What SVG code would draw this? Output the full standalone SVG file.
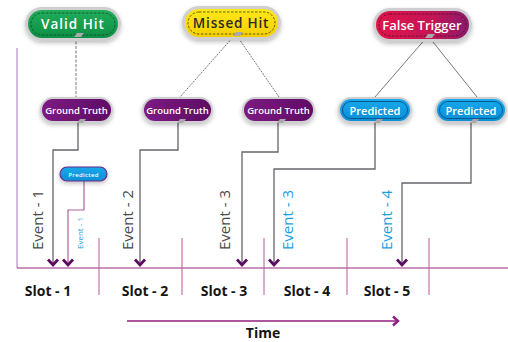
<svg xmlns="http://www.w3.org/2000/svg" width="508" height="342" viewBox="0 0 508 342">
<defs>
  <filter id="sh" x="-20%" y="-30%" width="140%" height="170%">
    <feDropShadow dx="0" dy="2" stdDeviation="2" flood-color="#000" flood-opacity="0.25"/>
  </filter>
  <linearGradient id="gGreen" x1="0" y1="0" x2="0" y2="1"><stop offset="0" stop-color="#22ad5c"/><stop offset="1" stop-color="#0e8f45"/></linearGradient>
  <linearGradient id="gYellow" x1="0" y1="0" x2="0" y2="1"><stop offset="0" stop-color="#ffe81a"/><stop offset="1" stop-color="#f5cf00"/></linearGradient>
  <linearGradient id="gRed" x1="0" y1="0" x2="1" y2="0"><stop offset="0" stop-color="#e0154a"/><stop offset="0.6" stop-color="#c41555"/><stop offset="1" stop-color="#8a1a6c"/></linearGradient>
  <linearGradient id="gPurple" x1="0" y1="0" x2="1" y2="0"><stop offset="0" stop-color="#7d1a82"/><stop offset="1" stop-color="#5e0c66"/></linearGradient>
  <linearGradient id="gBlue" x1="0" y1="0" x2="0" y2="1"><stop offset="0" stop-color="#18a8ec"/><stop offset="1" stop-color="#0a8fd6"/></linearGradient>
  <marker id="chev" markerUnits="userSpaceOnUse" markerWidth="14" markerHeight="14" viewBox="-8 -7 10 14" refX="0" refY="0" orient="auto">
    <path d="M-5.5,-5 L0,0 L-5.5,5" fill="none" stroke="#5c0b5e" stroke-width="2.8" stroke-linejoin="miter"/>
  </marker>
  <marker id="chevT" markerUnits="userSpaceOnUse" markerWidth="14" markerHeight="14" viewBox="-8 -7 10 14" refX="0" refY="0" orient="auto">
    <path d="M-5,-4.5 L0,0 L-5,4.5" fill="none" stroke="#8e1f80" stroke-width="2.4"/>
  </marker>
  <style>
    .outer{fill:#cfcfd2;filter:url(#sh)}
    .dash{fill:none;stroke-width:0.8;stroke-dasharray:2.5 1.5}
    .notch{fill:#a9a9ad}
    .lbl{font-family:"Open Sans","Liberation Sans",sans-serif;font-weight:600;text-anchor:middle}
    .elbow{fill:none;stroke:#66666c;stroke-width:1.3;marker-end:url(#chev)}
    .thin{fill:none;stroke:#55555a;stroke-width:0.8}
    .ev{font-family:"Open Sans","Liberation Sans",sans-serif;text-anchor:middle}
    .slot{font-family:"Open Sans","Liberation Sans",sans-serif;font-size:14px;font-weight:bold;fill:#151515;text-anchor:middle}
    .div{stroke:#b45a95;stroke-width:1}
  </style>
</defs>
<rect width="508" height="342" fill="#ffffff"/>

<g id="axes">
  <line x1="17" y1="48" x2="17" y2="268" stroke="#b88cc6" stroke-width="1.2"/>
  <line x1="17" y1="268" x2="508" y2="268" stroke="#93297f" stroke-width="1.2"/>
  <line class="div" x1="99" y1="238" x2="99" y2="295"/>
  <line class="div" x1="182" y1="238" x2="182" y2="295"/>
  <line class="div" x1="264" y1="238" x2="264" y2="295"/>
  <line class="div" x1="347" y1="238" x2="347" y2="295"/>
  <line class="div" x1="429" y1="238" x2="429" y2="295"/>
</g>

<g id="connectors">
  <path class="thin" d="M76,37 V97" stroke-dasharray="3 1.5"/>
  <path class="thin" d="M234,36 L180,97" stroke-dasharray="2 1"/>
  <path class="thin" d="M237,36 L279,97" stroke-dasharray="2 1"/>
  <path class="thin" d="M427,37 L375,97"/>
  <path class="thin" d="M429,37 L477,97"/>
  <path class="elbow" d="M78,123 V150 H53 V265"/>
  <path class="elbow" d="M178,123 V150 H140 V265"/>
  <path class="elbow" d="M278,123 V152 H242 V265"/>
  <path class="elbow" d="M375,123 V169 H274 V265"/>
  <path class="elbow" d="M471,123 V183 H402 V265"/>
  <path d="M84,180 V210 H68 V265" fill="none" stroke="#b3619f" stroke-width="1.2" marker-end="url(#chev)"/>
  <path d="M127,321 H398" fill="none" stroke="#8e1f80" stroke-width="1.5" marker-end="url(#chevT)"/>
</g>

<g id="valid-hit">
  <rect class="outer" x="25" y="7" width="96" height="34" rx="17"/>
  <rect x="28" y="10" width="90" height="28" rx="14" fill="url(#gGreen)"/>
  <rect class="dash" x="31" y="13" width="84" height="22" rx="11" stroke="#0a4d27"/>
  <polygon class="notch" points="74,37 77,33 84,33 81,37"/>
  <text class="lbl" x="73" y="29" font-size="13.5" fill="#ffffff" letter-spacing="1">Valid Hit</text>
</g>

<g id="missed-hit">
  <rect class="outer" x="182" y="6" width="99" height="34" rx="17"/>
  <rect x="185" y="9" width="93" height="28" rx="14" fill="url(#gYellow)"/>
  <rect class="dash" x="188" y="12" width="87" height="22" rx="11" stroke="#4a3d00"/>
  <polygon class="notch" points="233,36 236,32 243,32 240,36"/>
  <text class="lbl" x="231" y="28" font-size="13.5" fill="#2a2a2a" letter-spacing="0.8">Missed Hit</text>
</g>

<g id="false-trigger">
  <rect class="outer" x="373" y="8" width="99" height="34" rx="17"/>
  <rect x="376" y="11" width="93" height="28" rx="14" fill="url(#gRed)"/>
  <rect class="dash" x="379" y="14" width="87" height="22" rx="11" stroke="#5a0a2a"/>
  <polygon class="notch" points="425,38 428,34 435,34 432,38"/>
  <text class="lbl" x="422" y="30" font-size="13" fill="#ffffff">False Trigger</text>
</g>

<g id="gt-1">
  <rect class="outer" x="40" y="97" width="73" height="26" rx="13"/>
  <rect x="42" y="99" width="69" height="22" rx="11" fill="url(#gPurple)"/>
  <polygon class="notch" points="77,123 80,119 86,119 83,123"/>
  <text class="lbl" x="76.5" y="113.5" font-size="9.5" fill="#ffffff">Ground Truth</text>
</g>
<g id="gt-2">
  <rect class="outer" x="142" y="97" width="71" height="26" rx="13"/>
  <rect x="144" y="99" width="67" height="22" rx="11" fill="url(#gPurple)"/>
  <polygon class="notch" points="177,123 180,119 186,119 183,123"/>
  <text class="lbl" x="177.5" y="113.5" font-size="9.5" fill="#ffffff">Ground Truth</text>
</g>
<g id="gt-3">
  <rect class="outer" x="242" y="97" width="73" height="26" rx="13"/>
  <rect x="244" y="99" width="69" height="22" rx="11" fill="url(#gPurple)"/>
  <polygon class="notch" points="277,123 280,119 286,119 283,123"/>
  <text class="lbl" x="278.5" y="113.5" font-size="9.5" fill="#ffffff">Ground Truth</text>
</g>

<g id="pred-1">
  <rect class="outer" x="338" y="97" width="74" height="26" rx="13"/>
  <rect x="340" y="99" width="70" height="22" rx="11" fill="url(#gBlue)"/>
  <rect x="342.5" y="101.5" width="65" height="17" rx="8.5" fill="none" stroke="#0a4f86" stroke-width="0.9"/>
  <polygon class="notch" points="374,123 377,119 383,119 380,123"/>
  <text class="lbl" x="375" y="114.5" font-size="11" fill="#ffffff">Predicted</text>
</g>
<g id="pred-2">
  <rect class="outer" x="435" y="97" width="72" height="26" rx="13"/>
  <rect x="437" y="99" width="68" height="22" rx="11" fill="url(#gBlue)"/>
  <rect x="439.5" y="101.5" width="63" height="17" rx="8.5" fill="none" stroke="#0a4f86" stroke-width="0.9"/>
  <polygon class="notch" points="470,123 473,119 479,119 476,123"/>
  <text class="lbl" x="471" y="114.5" font-size="11" fill="#ffffff">Predicted</text>
</g>

<g id="pred-small">
  <rect x="60" y="167" width="47" height="14" rx="7" fill="url(#gBlue)" stroke="#6a2a8a" stroke-width="1.2" filter="url(#sh)"/>
  <text class="lbl" x="83.5" y="176.5" font-size="6" fill="#ffffff" letter-spacing="0.3">Predicted</text>
</g>

<g id="event-labels">
  <text class="ev" transform="translate(43,220) rotate(-90)" fill="#4a4a4a" font-size="15">Event - 1</text>
  <text class="ev" transform="translate(133,220) rotate(-90)" fill="#4a4a4a" font-size="15">Event - 2</text>
  <text class="ev" transform="translate(230,220) rotate(-90)" fill="#4a4a4a" font-size="15">Event - 3</text>
  <text class="ev" transform="translate(293,220) rotate(-90)" fill="#1ba0dc" font-size="15">Event - 3</text>
  <text class="ev" transform="translate(392,220) rotate(-90)" fill="#1ba0dc" font-size="15">Event - 4</text>
  <text class="ev" transform="translate(83,233) rotate(-90)" fill="#1ba0dc" font-size="8">Event - 1</text>
</g>

<g id="slot-labels">
  <text class="slot" x="48" y="296">Slot - 1</text>
  <text class="slot" x="145" y="296">Slot - 2</text>
  <text class="slot" x="224" y="296">Slot - 3</text>
  <text class="slot" x="307" y="296">Slot - 4</text>
  <text class="slot" x="387" y="296">Slot - 5</text>
  <text class="slot" x="263" y="338">Time</text>
</g>
</svg>
